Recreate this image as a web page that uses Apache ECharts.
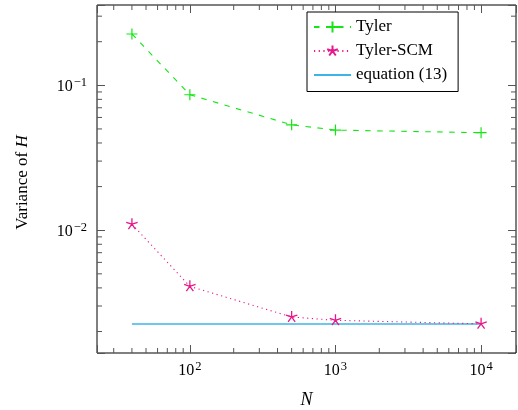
<!DOCTYPE html>
<html>
<head>
<meta charset="utf-8">
<script src="https://cdn.jsdelivr.net/npm/echarts@6/dist/echarts.min.js"></script>
<style>html,body{margin:0;padding:0;background:#fff}#c{width:518px;height:410px}</style>
</head>
<body>
<div id="c"></div>
<script>
// ---- data ----
const N = [40, 100, 500, 1000, 10000];
const tyler = [0.226, 0.0861, 0.0534, 0.0491, 0.0471];
const tylerSCM = [0.0110, 0.0041, 0.00252, 0.00239, 0.00226];
const eqN = [40, 10000];
const eq13 = [0.002254, 0.002254];
const seriesNames = ['Tyler', 'Tyler-SCM', 'equation (13)'];
const xMinorTicks = [30, 40, 50, 60, 70, 80, 90, 200, 300, 400, 500, 600, 700, 800, 900,
  2000, 3000, 4000, 5000, 6000, 7000, 8000, 9000];
const yMinorTicks = [0.002, 0.003, 0.004, 0.005, 0.006, 0.007, 0.008, 0.009,
  0.02, 0.03, 0.04, 0.05, 0.06, 0.07, 0.08, 0.09, 0.2, 0.3];

// axis limits (pgfplots-style 10% enlargement in log space)
const lx0 = Math.log10(N[0]), lx1 = Math.log10(N[N.length - 1]);
const X_MIN = Math.pow(10, lx0 - 0.1 * (lx1 - lx0));
const X_MAX = Math.pow(10, lx1 + 0.1 * (lx1 - lx0));
const ly0 = Math.log10(eq13[0]), ly1 = Math.log10(tyler[0]);
const Y_MIN = Math.pow(10, ly0 - 0.1 * (ly1 - ly0));
const Y_MAX = Math.pow(10, ly1 + 0.1 * (ly1 - ly0));

const SERIF = '"Liberation Serif", "DejaVu Serif", serif';
const GREEN = '#14e614';
const PINK = '#e8178c';
const CYAN = '#3db4e8';
const TICK = '#555';

function powLabel(v) {
  const e = Math.log10(v);
  const r = Math.round(e);
  if (Math.abs(e - r) > 1e-6) return '';
  return '{b|10}{s|' + (r < 0 ? '\u2212' + (-r) : r) + '}';
}
const richLab = {
  b: { fontSize: 16, fontFamily: SERIF, color: '#000', lineHeight: 19, verticalAlign: 'bottom' },
  s: { fontSize: 12.5, fontFamily: SERIF, color: '#000', lineHeight: 11, verticalAlign: 'top', padding: [0, 0, 0, 1] }
};

const plusPath = 'path://M5,0L5,10M0,5L10,5';
// 5-armed asterisk
const starPath = (function () {
  let d = '';
  for (let k = 0; k < 5; k++) {
    const a = (90 + 72 * k) * Math.PI / 180;
    d += 'M5,5L' + (5 + 5 * Math.cos(a)).toFixed(3) + ',' + (5 - 5 * Math.sin(a)).toFixed(3);
  }
  return 'path://M0,0' + d + 'M10,10';
})();

const chart = echarts.init(document.getElementById('c'), null, { renderer: 'canvas' });

function minorX(params, api) {
  const v = api.value(0);
  const b = api.coord([v, Y_MIN]);
  const t = api.coord([v, Y_MAX]);
  const st = { stroke: TICK, lineWidth: 1 };
  return { type: 'group', children: [
    { type: 'line', shape: { x1: b[0], y1: b[1], x2: b[0], y2: b[1] - 5 }, style: st },
    { type: 'line', shape: { x1: t[0], y1: t[1], x2: t[0], y2: t[1] + 5 }, style: st }
  ]};
}
function minorY(params, api) {
  const v = api.value(1);
  const l = api.coord([X_MIN, v]);
  const r = api.coord([X_MAX, v]);
  const st = { stroke: TICK, lineWidth: 1 };
  return { type: 'group', children: [
    { type: 'line', shape: { x1: l[0], y1: l[1], x2: l[0] + 5, y2: l[1] }, style: st },
    { type: 'line', shape: { x1: r[0], y1: r[1], x2: r[0] - 5, y2: r[1] }, style: st }
  ]};
}

const xBase = {
  type: 'log', logBase: 10, min: X_MIN, max: X_MAX,
  axisLine: { show: false },
  splitLine: { show: false },
  axisTick: { show: true, inside: true, length: 8, lineStyle: { color: TICK, width: 1 } }
};
const yBase = {
  type: 'log', logBase: 10, min: Y_MIN, max: Y_MAX,
  axisLine: { show: false },
  splitLine: { show: false },
  axisTick: { show: true, inside: true, length: 8, lineStyle: { color: TICK, width: 1 } }
};

chart.setOption({
  animation: false,
  backgroundColor: '#fff',
  grid: { left: 97, right: 2, top: 5, bottom: 57, containLabel: false, outerBoundsMode: 'none',
    show: true, borderColor: '#000', borderWidth: 1, backgroundColor: 'transparent' },
  xAxis: [
    Object.assign({}, xBase, {
      position: 'bottom',
      axisLabel: { margin: 7, fontSize: 16, fontFamily: SERIF, color: '#000', formatter: powLabel, rich: richLab },
      name: '{i|N}', nameLocation: 'middle', nameGap: 38,
      nameTextStyle: { fontSize: 18, rich: { i: { fontFamily: SERIF, fontStyle: 'italic', fontSize: 18, color: '#000' } } }
    }),
    Object.assign({}, xBase, { position: 'top', axisLabel: { show: false } })
  ],
  yAxis: [
    Object.assign({}, yBase, {
      position: 'left',
      axisLabel: { margin: 10, fontSize: 16, fontFamily: SERIF, color: '#000', formatter: powLabel, rich: richLab },
      name: '{a|Variance of }{i|H}', nameLocation: 'middle', nameGap: 66, nameRotate: 90,
      nameTextStyle: { fontSize: 17, padding: [0, 7, 0, 0], rich: {
        a: { fontFamily: SERIF, fontSize: 17, color: '#000' },
        i: { fontFamily: SERIF, fontSize: 17, fontStyle: 'italic', color: '#000' }
      } }
    }),
    Object.assign({}, yBase, { position: 'right', axisLabel: { show: false } })
  ],
  legend: {
    data: [
      { name: seriesNames[0] },
      { name: seriesNames[1] },
      { name: seriesNames[2], itemStyle: { opacity: 0 } }
    ],
    left: 307, top: 12,
    orient: 'vertical',
    itemWidth: 37, itemHeight: 14, itemGap: 7,
    padding: [6.5, 11, 8, 6],
    backgroundColor: '#fff',
    borderColor: '#000', borderWidth: 1, borderRadius: 0,
    textStyle: { fontFamily: SERIF, fontSize: 17, color: '#000' },
    align: 'left'
  },
  series: [
    {
      name: 'Tyler', type: 'line', xAxisIndex: 0, yAxisIndex: 0,
      data: N.map((n, i) => [n, tyler[i]]),
      symbol: plusPath, symbolSize: 11, showSymbol: true,
      color: GREEN,
      itemStyle: { color: GREEN, borderColor: GREEN, borderWidth: 1.2 },
      lineStyle: { color: GREEN, width: 1.1, type: [5.5, 6.5] },
      z: 5
    },
    {
      name: 'Tyler-SCM', type: 'line', xAxisIndex: 0, yAxisIndex: 0,
      data: N.map((n, i) => [n, tylerSCM[i]]),
      symbol: starPath, symbolSize: 12, showSymbol: true,
      color: PINK,
      itemStyle: { color: PINK, borderColor: PINK, borderWidth: 1.3 },
      lineStyle: { color: PINK, width: 1.1, type: [1.2, 3.5] },
      z: 5
    },
    {
      name: 'equation (13)', type: 'line', xAxisIndex: 0, yAxisIndex: 0,
      data: eqN.map((n, i) => [n, eq13[i]]),
      symbol: 'none', showSymbol: false,
      color: CYAN,
      lineStyle: { color: CYAN, width: 1.6, type: 'solid' },
      z: 4
    },
    {
      type: 'custom', name: 'xminor', renderItem: minorX, silent: true,
      data: xMinorTicks.map(v => [v, Y_MIN]), z: 1
    },
    {
      type: 'custom', name: 'yminor', renderItem: minorY, silent: true,
      data: yMinorTicks.map(v => [X_MIN, v]), z: 1
    }
  ]
});
</script>
</body>
</html>
